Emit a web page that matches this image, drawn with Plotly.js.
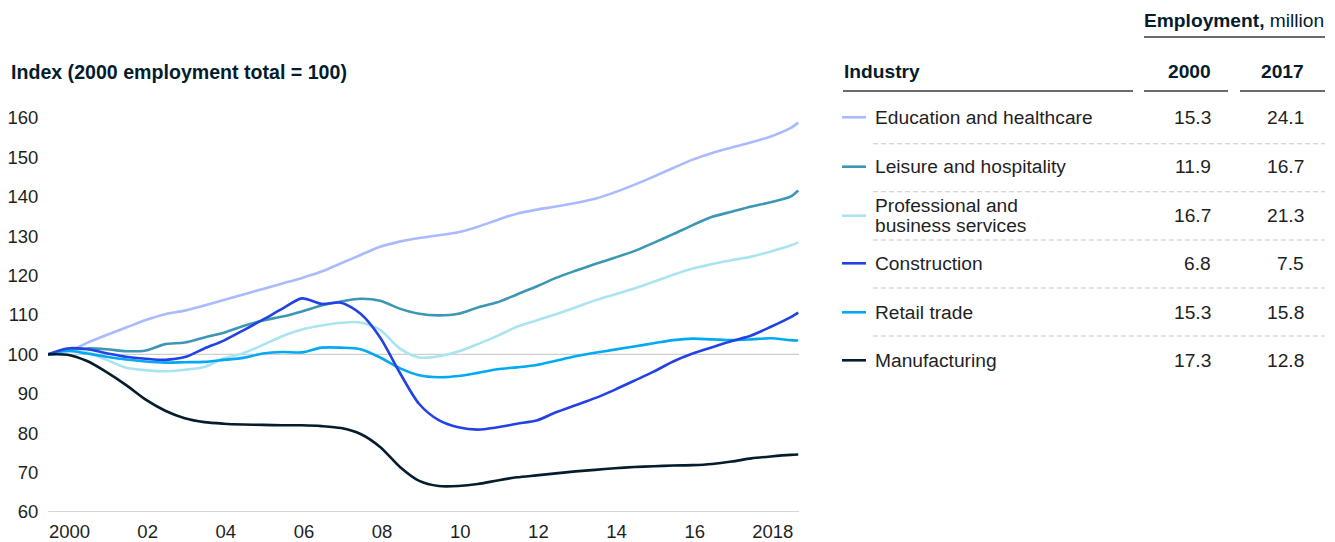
<!DOCTYPE html>
<html>
<head>
<meta charset="utf-8">
<script src="https://cdn.plot.ly/plotly-3.0.1.min.js"></script>
<style>html,body{margin:0;padding:0;background:#fff;}#chart{width:1335px;height:542px;}</style>
</head>
<body>
<div id="chart"></div>
<script>
// ---------- DATA ----------
const years = [2000.0,2000.5,2001.0,2001.5,2002.0,2002.5,2003.0,2003.5,2004.0,2004.5,2005.0,2005.5,2006.0,2006.5,2007.0,2007.5,2008.0,2008.5,2009.0,2009.5,2010.0,2010.5,2011.0,2011.5,2012.0,2012.5,2013.0,2013.5,2014.0,2014.5,2015.0,2015.5,2016.0,2016.5,2017.0,2017.5,2018.0,2018.5,2019.0,2019.2];

const education     = [100,100.7,102.9,104.9,106.8,108.7,110.2,111.1,112.4,113.8,115.2,116.6,118.0,119.4,121.0,123.1,125.2,127.3,128.6,129.5,130.2,131.0,132.4,134.1,135.7,136.7,137.5,138.4,139.5,141.1,143.0,145.1,147.3,149.4,151.1,152.5,153.8,155.3,157.4,158.8];
const leisure       = [100,101.0,101.5,101.3,100.8,101.0,102.6,103.0,104.3,105.5,107.2,108.6,109.6,110.9,112.4,113.4,114.1,113.6,111.6,110.3,109.9,110.3,111.9,113.2,115.2,117.2,119.4,121.2,122.9,124.5,126.2,128.3,130.5,132.8,134.9,136.2,137.5,138.6,140.0,141.6];
const professional  = [100,100.8,100.5,98.6,96.6,96.0,95.7,96.1,96.8,99.0,100.3,102.4,104.6,106.3,107.3,108.0,108.1,106.2,101.5,99.2,99.5,100.7,102.6,104.7,107.0,108.6,110.2,111.9,113.7,115.2,116.7,118.4,120.2,121.8,122.9,123.9,124.8,126.1,127.6,128.4];
const construction  = [100,101.5,101.3,100.3,99.4,98.9,98.6,99.3,101.5,103.5,106.1,108.8,111.6,114.2,112.8,113.1,110.3,104.3,95.4,87.4,83.3,81.5,80.9,81.5,82.4,83.2,85.3,87.1,88.9,91.0,93.3,95.6,98.2,100.2,101.8,103.4,104.8,107.0,109.4,110.6];
const retail        = [100,100.9,100.2,99.4,98.7,98.2,97.9,98.0,98.1,98.6,99.1,100.2,100.6,100.5,101.7,101.7,101.3,99.2,96.5,94.7,94.2,94.5,95.3,96.2,96.7,97.3,98.4,99.5,100.4,101.2,102.0,102.8,103.6,104.0,103.8,103.6,103.8,104.1,103.6,103.5];
const manufacturing = [100,99.9,98.3,95.5,92.2,88.5,85.7,83.8,82.8,82.4,82.2,82.1,82.0,82.0,81.8,81.3,79.8,76.5,71.5,67.9,66.6,66.6,67.1,68.0,68.8,69.3,69.8,70.3,70.7,71.1,71.4,71.6,71.8,71.9,72.2,72.8,73.6,74.1,74.5,74.6];

const industries = ["Education and healthcare","Leisure and hospitality","Professional and|business services","Construction","Retail trade","Manufacturing"];
const emp2000 = ["15.3","11.9","16.7","6.8","15.3","17.3"];
const emp2017 = ["24.1","16.7","21.3","7.5","15.8","12.8"];

const tickYears  = [2000,2002,2004,2006,2008,2010,2012,2014,2016,2018];
const tickLabels = ["2000","02","04","06","08","10","12","14","16","2018"];
const yTicks = [60,70,80,90,100,110,120,130,140,150,160];

// ---------- STYLE ----------
const colors = ["#AABAFF","#3C96B4","#AAE4F0","#2342E6","#00A9F4","#051C2C"];
const series = [education, leisure, professional, construction, retail, manufacturing];
const FONT = "Liberation Sans, Arial, Helvetica, sans-serif";
const INK = "#1f1f1f", NAVY = "#051C2C";
const FS = 19.2;

const Wd = 1335, Ht = 542;
const L = 48, T = 110, R = 536, B = 30;
const PW = Wd - L - R, PH = Ht - T - B;
const px = x => (x - L) / PW;
const py = y => 1 - (y - T) / PH;

const traces = series.map((s, i) => ({
  x: years, y: s, type: "scatter", mode: "lines",
  line: {color: colors[i], width: 2.6, shape: "spline", smoothing: 0.8},
  name: industries[i].replace("|", " "), hoverinfo: "skip"
}));
const order = [0,1,2,4,3,5];
const data = order.map(i => traces[i]);

const shapes = [
  {type:"line", xref:"paper", yref:"y", x0:0, x1:1, y0:100, y1:100, line:{color:"#cfcfcf", width:1.3}, layer:"below"},
  {type:"line", xref:"paper", yref:"y", x0:0, x1:1, y0:60, y1:60, line:{color:"#d6d6d6", width:2}, layer:"below"}
];
const annotations = [];
function txt(text, x, y, anchor, size, color) {
  annotations.push({
    text: text, xref:"paper", yref:"paper", x: px(x), y: py(y),
    xanchor: anchor, yanchor: "middle", showarrow: false,
    font: {family: FONT, size: size, color: color}
  });
}
function hline(x0, x1, y, color, width, dash) {
  shapes.push({type:"line", xref:"paper", yref:"paper", x0:px(x0), x1:px(x1), y0:py(y), y1:py(y),
    line:{color:color, width:width, dash: dash || "solid"}});
}

// chart title
txt("<b>Index (2000 employment total = 100)</b>", 9, 72, "left", 19.6, NAVY);

// table header
txt("<b>Employment,</b> million", 1326, 20, "right", FS, NAVY);
hline(1144, 1325, 37, "#3a3a3a", 1.3);
txt("<b>Industry</b>", 842, 71, "left", FS, NAVY);
txt("<b>2000</b>", 1213, 71, "right", FS, NAVY);
txt("<b>2017</b>", 1306, 71, "right", FS, NAVY);
hline(843, 1133, 91, "#3a3a3a", 1.3);
hline(1144, 1228, 91, "#3a3a3a", 1.3);
hline(1240, 1325, 91, "#3a3a3a", 1.3);

// table rows
const rowY = [117.3, 166.7, 215.7, 263.3, 312.3, 360.3];
const sepY = [143.7, 191.7, 240, 288, 336];
industries.forEach((name, i) => {
  const y = rowY[i];
  hline(842, 866, y, colors[i], 2.6);
  const parts = name.split("|");
  if (parts.length === 2) {
    txt(parts[0], 873, y - 10, "left", FS, INK);
    txt(parts[1], 873, y + 9.5, "left", FS, INK);
  } else {
    txt(parts[0], 873, y, "left", FS, INK);
  }
  txt(emp2000[i], 1213, y, "right", FS, INK);
  txt(emp2017[i], 1306, y, "right", FS, INK);
});
sepY.forEach(y => hline(873, 1325, y, "#cccccc", 1.1, "5px,3px"));

const layout = {
  width: Wd, height: Ht,
  margin: {l: L, r: R, t: T, b: B, pad: 0},
  paper_bgcolor: "#ffffff", plot_bgcolor: "#ffffff",
  showlegend: false,
  font: {family: FONT, color: INK},
  xaxis: {
    range: [2000, 2019.22], tickmode: "array",
    tickvals: tickYears.map(y => y + 0.55), ticktext: tickLabels,
    showgrid: false, zeroline: false, showline: false,
    ticks: "outside", ticklen: 3, tickcolor: "rgba(0,0,0,0)",
    tickfont: {family: FONT, size: 18.5, color: INK}, fixedrange: true
  },
  yaxis: {
    range: [60, 162], tickmode: "array", tickvals: yTicks,
    showgrid: false, zeroline: false, showline: false,
    ticks: "outside", ticklen: 5, tickcolor: "rgba(0,0,0,0)",
    tickfont: {family: FONT, size: 18.5, color: INK}, fixedrange: true
  },
  shapes: shapes,
  annotations: annotations
};

Plotly.newPlot("chart", data, layout, {displayModeBar: false, staticPlot: true});
</script>
</body>
</html>
